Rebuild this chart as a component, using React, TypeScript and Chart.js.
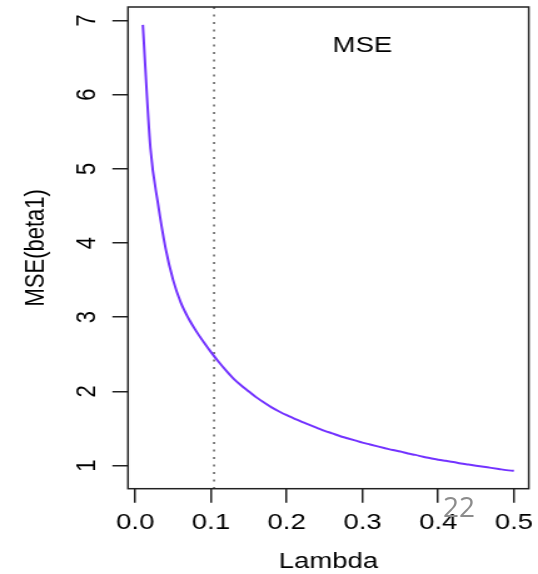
import React, { useEffect, useRef } from "react";
import { Chart, registerables } from "chart.js";

Chart.register(...registerables);

// ---- data ----
const lambdaValues = [
  0.01, 0.02, 0.03, 0.04, 0.05, 0.06, 0.07, 0.08, 0.09, 0.1,
  0.11, 0.12, 0.13, 0.14, 0.15, 0.16, 0.17, 0.18, 0.19, 0.2,
  0.21, 0.22, 0.23, 0.24, 0.25, 0.26, 0.27, 0.28, 0.29, 0.3,
  0.31, 0.32, 0.33, 0.34, 0.35, 0.36, 0.37, 0.38, 0.39, 0.4,
  0.41, 0.42, 0.43, 0.44, 0.45, 0.46, 0.47, 0.48, 0.49, 0.5,
];
const mseValues = [
  6.94, 5.28, 4.53, 3.93, 3.5, 3.2, 2.99, 2.82, 2.67, 2.53,
  2.4, 2.28, 2.17, 2.08, 2.0, 1.92, 1.85, 1.785, 1.73, 1.68,
  1.635, 1.59, 1.55, 1.51, 1.47, 1.435, 1.4, 1.37, 1.34, 1.31,
  1.285, 1.26, 1.235, 1.21, 1.19, 1.165, 1.145, 1.12, 1.1, 1.08,
  1.065, 1.05, 1.03, 1.015, 1.0, 0.985, 0.97, 0.955, 0.94, 0.93,
];
const xTickValues = [0, 0.1, 0.2, 0.3, 0.4, 0.5];
const xTickLabels = ["0.0", "0.1", "0.2", "0.3", "0.4", "0.5"];
const yTickValues = [1, 2, 3, 4, 5, 6, 7];
const yTickLabels = ["1", "2", "3", "4", "5", "6", "7"];
const vlineX = [0.104];
const legendLabel = "MSE";
const legendAt = [0.3, 6.65];
const xTitle = "Lambda";
const yTitle = "MSE(beta1)";
const pageNumber = "22";

const STRETCH = 538 / 430;
const FONT = "'Liberation Sans', Arial, Helvetica, sans-serif";

function ext(vals: number[]) {
  const lo = Math.min(...vals);
  const hi = Math.max(...vals);
  const pad = (hi - lo) * 0.04;
  return [lo - pad, hi + pad];
}

export default function App() {
  const ref = useRef<HTMLCanvasElement | null>(null);

  useEffect(() => {
    const canvas = ref.current;
    if (!canvas) return;
    const [xMin, xMax] = ext(lambdaValues);
    const [yMin, yMax] = ext(mseValues);

    const overlay = {
      id: "overlay",
      beforeDatasetsDraw(chart: any) {
        const { ctx, chartArea, scales } = chart;
        ctx.save();
        ctx.strokeStyle = "#444";
        ctx.lineWidth = 1.3;
        ctx.setLineDash([2, 5.5]);
        vlineX.forEach((v) => {
          const px = scales.x.getPixelForValue(v);
          ctx.beginPath();
          ctx.moveTo(px, chartArea.top);
          ctx.lineTo(px, chartArea.bottom);
          ctx.stroke();
        });
        ctx.restore();
      },
      afterDraw(chart: any) {
        const { ctx, chartArea, scales } = chart;
        ctx.save();
        ctx.strokeStyle = "#222";
        ctx.lineWidth = 1.5;
        ctx.strokeRect(
          chartArea.left,
          chartArea.top,
          chartArea.right - chartArea.left,
          chartArea.bottom - chartArea.top
        );
        ctx.fillStyle = "#000";
        ctx.font = `22px ${FONT}`;
        ctx.textAlign = "center";
        ctx.textBaseline = "middle";
        ctx.fillText(
          legendLabel,
          scales.x.getPixelForValue(legendAt[0]),
          scales.y.getPixelForValue(legendAt[1])
        );
        ctx.restore();
      },
    };

    const chart = new Chart(canvas, {
      type: "line",
      data: {
        datasets: [
          {
            data: lambdaValues.map((x, i) => ({ x, y: mseValues[i] })),
            borderColor: "#7333ff",
            borderWidth: 2,
            pointRadius: 0,
            cubicInterpolationMode: "monotone",
            fill: false,
          },
        ],
      },
      options: {
        animation: false,
        responsive: false,
        devicePixelRatio: 1,
        layout: { padding: { top: 7, right: 7.4, bottom: 0, left: 0 } },
        plugins: {
          legend: { display: false },
          tooltip: { enabled: false },
        },
        scales: {
          x: {
            type: "linear",
            min: xMin,
            max: xMax,
            afterBuildTicks: (s: any) => {
              s.ticks = xTickValues.map((v) => ({ value: v }));
            },
            afterFit: (s: any) => {
              s.height = 85.3;
              s.paddingLeft = 0;
              s.paddingRight = 0;
            },
            border: { display: false },
            grid: {
              drawOnChartArea: false,
              drawTicks: true,
              tickLength: 14,
              color: "#222",
              lineWidth: 1.5,
            },
            ticks: {
              autoSkip: false,
              maxRotation: 0,
              padding: 7,
              color: "#000",
              font: { family: FONT, size: 22 },
              callback: (_v: any, i: number) => xTickLabels[i],
            },
            title: {
              display: true,
              text: xTitle,
              color: "#000",
              font: { family: FONT, size: 22, lineHeight: 1.1 },
              padding: { top: 0, bottom: 0 },
            },
          },
          y: {
            type: "linear",
            min: yMin,
            max: yMax,
            afterBuildTicks: (s: any) => {
              s.ticks = yTickValues.map((v) => ({ value: v }));
            },
            afterFit: (s: any) => {
              s.width = 102.3;
              s.paddingTop = 0;
              s.paddingBottom = 0;
            },
            border: { display: false },
            grid: {
              drawOnChartArea: false,
              drawTicks: true,
              tickLength: 12.5,
              color: "#222",
              lineWidth: 1.5,
            },
            ticks: {
              minRotation: 90,
              maxRotation: 90,
              crossAlign: "center",
              padding: 13.5,
              color: "#000",
              font: { family: FONT, size: 22 },
              callback: (_v: any, i: number) => yTickLabels[i],
            },
            title: {
              display: true,
              text: yTitle,
              color: "#000",
              font: { family: FONT, size: 22, lineHeight: 1.1 },
              padding: { top: 17, bottom: 0 },
            },
          },
        },
      },
      plugins: [overlay],
    });
    return () => chart.destroy();
  }, []);

  return (
    <div
      style={{
        position: "fixed",
        left: 0,
        top: 0,
        width: 538,
        height: 574,
        overflow: "hidden",
        background: "#fff",
      }}
    >
      <div
        style={{
          width: 430,
          height: 574,
          transform: `scaleX(${STRETCH})`,
          transformOrigin: "0 0",
        }}
      >
        <canvas ref={ref} width={430} height={574} style={{ display: "block" }} />
      </div>
      <span
        style={{
          position: "absolute",
          left: 443,
          top: 492,
          fontFamily: "'Open Sans', sans-serif",
          fontSize: 28,
          lineHeight: "28px",
          color: "#8c8c8c",
        }}
      >
        {pageNumber}
      </span>
    </div>
  );
}
